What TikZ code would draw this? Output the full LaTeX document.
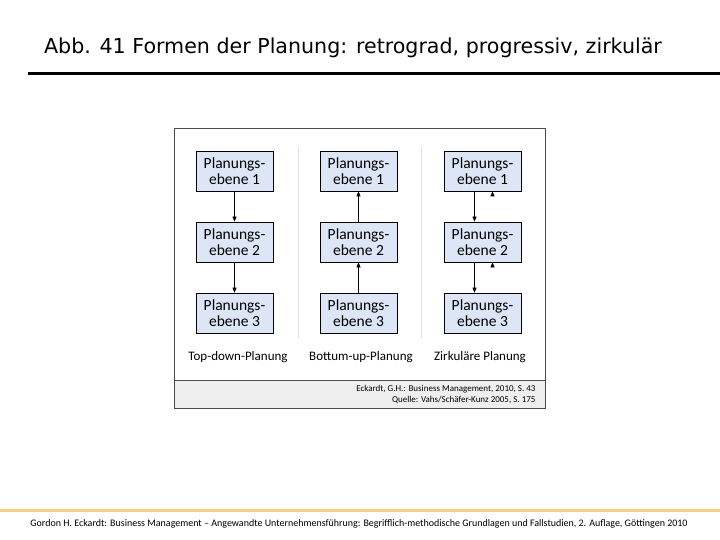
\documentclass[tikz,border=0pt]{standalone}
\usepackage{fontspec}
\setmainfont{Carlito}
\newfontfamily\titlefont{DejaVu Sans}
\usetikzlibrary{arrows.meta}
\definecolor{boxfill}{HTML}{DCE6F6}
\definecolor{band}{HTML}{EFEFEF}
\definecolor{gold}{HTML}{F2D184}
\begin{document}
\begin{tikzpicture}[x=1pt,y=-1pt,
  pbox/.style={draw=black,fill=boxfill,line width=0.6pt,minimum width=77pt,minimum height=40pt,align=center,font=\fontsize{15.5}{16}\selectfont,inner sep=0pt},
  arr/.style={-{Triangle[length=5pt,width=4pt]},line width=0.6pt},
  uptip/.style={white,-{Triangle[length=5pt,width=4pt,color=black]},line width=0.6pt},
  lbl/.style={font=\fontsize{13}{15}\selectfont}]
\useasboundingbox (0,0) rectangle (720,540);
\node[font=\titlefont\fontsize{20.6}{23}\selectfont] (title) at (353,48) {Abb. 41 Formen der Planung: retrograd, progressiv, zirkulär};
\draw[line width=3pt] (28,74) -- (720,74);
\fill[band] (174,380) rectangle (545,408);
\draw[line width=1pt,draw=black!70] (174,129) rectangle (545,408);
\draw[line width=0.6pt,draw=black!70] (174,380) -- (545,380);
\draw[black!12,line width=0.8pt] (298,147) -- (298,338) (421,147) -- (421,338);
\foreach \c/\x in {a/234.5,b/358.5,c/482.5}{
  \node[pbox] (\c1) at (\x,171) {Planungs-\\ebene 1};
  \node[pbox] (\c2) at (\x,242) {Planungs-\\ebene 2};
  \node[pbox] (\c3) at (\x,313) {Planungs-\\ebene 3};
}
\draw[arr] (a1) -- (a2); \draw[arr] (a2) -- (a3);
\draw[arr] (b2) -- (b1); \draw[arr] (b3) -- (b2);
\draw[arr] ([xshift=-8pt]c1.south) -- ([xshift=-8pt]c2.north);
\draw[arr] ([xshift=-8pt]c2.south) -- ([xshift=-8pt]c3.north);
\draw[uptip] ([xshift=10pt]c2.north) -- ([xshift=10pt]c1.south);
\draw[uptip] ([xshift=10pt]c3.north) -- ([xshift=10pt]c2.south);
\node[lbl] (l1) at (238,357) {Top-down-Planung};
\node[lbl] (l2) at (361,357) {Bottum-up-Planung};
\node[lbl] (l3) at (480,357) {Zirkuläre Planung};
\node[anchor=east,font=\fontsize{9}{11}\selectfont,align=right] (src) at (539,394.5) {Eckardt, G.H.: Business Management, 2010, S. 43\\Quelle: Vahs/Schäfer-Kunz 2005, S. 175};
\draw[gold,line width=3pt] (0,510) -- (720,510);
\node[font=\fontsize{10}{11}\selectfont] (foot) at (359,524) {Gordon H. Eckardt: Business Management – Angewandte Unternehmensführung: Begrifflich-methodische Grundlagen und Fallstudien, 2. Auflage, Göttingen 2010};
\end{tikzpicture}
\end{document}
